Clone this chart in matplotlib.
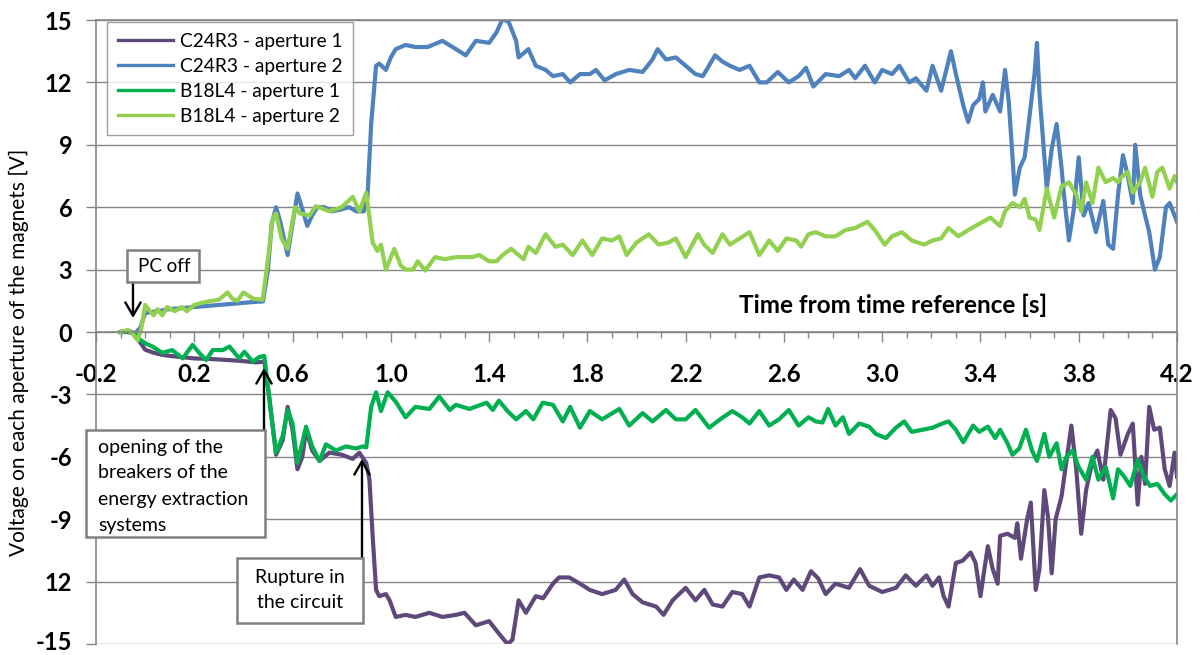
import matplotlib
matplotlib.use("Agg")
import matplotlib.pyplot as plt
from matplotlib.patches import Rectangle
from matplotlib.ticker import FixedLocator, FormatStrFormatter
from matplotlib.transforms import ScaledTranslation

plt.rcParams["font.family"] = ["Lato", "DejaVu Sans"]

W, H = 1201, 655

# ── Data (time [s], voltage [V]) ─────────────────────────────────────────────
c24_ap1_t = [-0.10, -0.07, -0.04, -0.02, 0.0, 0.035, 0.07, 0.10, 0.14, 0.20, 0.27, 0.34, 0.40, 0.45,
             0.485, 0.505, 0.533, 0.56, 0.58, 0.60, 0.62, 0.64, 0.655, 0.68, 0.71, 0.75, 0.80, 0.845,
             0.872, 0.90, 0.913, 0.926, 0.94, 0.953, 0.98, 0.995, 1.02, 1.06, 1.10, 1.157, 1.21, 1.265,
             1.30, 1.346, 1.40, 1.44, 1.475, 1.495, 1.52, 1.55, 1.59, 1.62, 1.66, 1.685, 1.726, 1.77,
             1.81, 1.86, 1.915, 1.95, 1.984, 2.025, 2.08, 2.11, 2.147, 2.20, 2.24, 2.276, 2.31, 2.35,
             2.39, 2.43, 2.46, 2.50, 2.54, 2.58, 2.61, 2.64, 2.676, 2.71, 2.74, 2.77, 2.81, 2.865,
             2.91, 2.947, 3.0, 3.056, 3.096, 3.137, 3.18, 3.205, 3.232, 3.25, 3.27, 3.30, 3.327, 3.36,
             3.38, 3.40, 3.43, 3.45, 3.47, 3.48, 3.51, 3.54, 3.55, 3.565, 3.59, 3.605, 3.625, 3.64,
             3.66, 3.675, 3.69, 3.706, 3.73, 3.75, 3.77, 3.79, 3.81, 3.83, 3.856, 3.876, 3.90, 3.93,
             3.95, 3.97, 4.0, 4.02, 4.04, 4.055, 4.07, 4.087, 4.107, 4.13, 4.15, 4.17, 4.19, 4.20]
c24_ap1_v = [0.0, 0.0, -0.1, -0.5, -0.85, -1.0, -1.1, -1.15, -1.2, -1.27, -1.3, -1.35, -1.4, -1.46,
             -1.43, -3.1, -5.9, -5.2, -3.6, -4.7, -6.6, -6.0, -4.7, -5.7, -6.2, -5.8, -5.9, -6.1,
             -5.8, -6.3, -7.1, -9.8, -12.4, -12.7, -12.6, -12.9, -13.7, -13.6, -13.7, -13.5, -13.7, -13.6,
             -13.5, -14.1, -13.9, -14.5, -15.0, -14.8, -12.9, -13.5, -12.7, -12.8, -12.1, -11.8, -11.8, -12.1,
             -12.4, -12.6, -12.4, -11.9, -12.6, -13.0, -13.2, -13.6, -12.9, -12.3, -12.9, -12.4, -13.1, -13.2,
             -12.5, -12.6, -13.2, -11.8, -11.7, -11.8, -12.4, -11.9, -12.4, -11.5, -11.85, -12.6, -12.1, -12.3,
             -11.4, -12.2, -12.5, -12.3, -11.7, -12.2, -11.7, -12.2, -11.8, -12.7, -13.2, -11.1, -11.0, -10.6,
             -11.1, -12.7, -10.3, -11.4, -12.1, -9.8, -9.7, -9.9, -9.2, -10.9, -9.0, -8.2, -12.4, -11.4,
             -7.6, -8.9, -11.6, -9.0, -7.9, -6.2, -4.5, -6.6, -9.7, -7.6, -6.2, -5.7, -7.1, -3.75,
             -4.15, -5.9, -4.9, -4.4, -8.3, -6.0, -7.3, -3.6, -4.7, -4.6, -6.6, -7.4, -5.8, -6.95]

c24_ap2_t = [-0.10, -0.07, -0.04, -0.02, 0.0, 0.02, 0.05, 0.10, 0.15, 0.20, 0.25, 0.30, 0.35, 0.40,
             0.45, 0.48, 0.50, 0.515, 0.533, 0.55, 0.58, 0.60, 0.62, 0.64, 0.66, 0.68, 0.70, 0.73,
             0.76, 0.80, 0.83, 0.86, 0.89, 0.905, 0.92, 0.94, 0.953, 0.98, 1.0, 1.02, 1.06, 1.10,
             1.15, 1.21, 1.265, 1.305, 1.346, 1.40, 1.43, 1.455, 1.48, 1.51, 1.52, 1.56, 1.59, 1.63,
             1.66, 1.70, 1.73, 1.77, 1.81, 1.835, 1.87, 1.916, 1.97, 2.025, 2.065, 2.086, 2.12, 2.16,
             2.20, 2.24, 2.27, 2.30, 2.32, 2.35, 2.38, 2.42, 2.46, 2.50, 2.53, 2.575, 2.62, 2.66,
             2.69, 2.72, 2.77, 2.825, 2.865, 2.89, 2.93, 2.97, 3.0, 3.04, 3.07, 3.11, 3.137, 3.18,
             3.205, 3.24, 3.28, 3.30, 3.33, 3.35, 3.37, 3.395, 3.41, 3.42, 3.45, 3.48, 3.50, 3.515,
             3.53, 3.54, 3.56, 3.58, 3.60, 3.62, 3.63, 3.64, 3.66, 3.67, 3.69, 3.71, 3.73, 3.74,
             3.76, 3.78, 3.80, 3.82, 3.84, 3.87, 3.90, 3.92, 3.94, 3.96, 3.98, 4.0, 4.02, 4.03,
             4.05, 4.07, 4.087, 4.11, 4.13, 4.155, 4.17, 4.19, 4.20]
c24_ap2_v = [0.0, 0.05, -0.05, 0.2, 0.9, 0.95, 1.0, 1.1, 1.15, 1.2, 1.25, 1.3, 1.35, 1.4,
             1.45, 1.47, 3.0, 5.2, 6.0, 5.3, 3.7, 5.2, 6.66, 5.9, 5.1, 5.6, 6.0, 6.0,
             5.8, 5.9, 6.0, 5.8, 5.8, 6.5, 10.0, 12.8, 12.9, 12.6, 13.2, 13.6, 13.8, 13.7,
             13.7, 14.0, 13.6, 13.3, 14.0, 13.9, 14.4, 15.05, 14.9, 14.0, 13.2, 13.6, 12.8, 12.6,
             12.3, 12.4, 12.0, 12.4, 12.4, 12.6, 12.1, 12.4, 12.6, 12.5, 13.1, 13.6, 13.1, 13.2,
             12.8, 12.4, 12.3, 12.9, 13.3, 13.0, 12.8, 12.6, 12.8, 12.0, 12.0, 12.5, 12.0, 12.3,
             12.7, 11.8, 12.4, 12.3, 12.6, 12.2, 12.8, 12.0, 12.6, 12.4, 12.8, 12.0, 12.2, 11.6,
             12.8, 11.6, 13.5, 12.4, 10.9, 10.1, 10.9, 11.2, 12.0, 10.6, 11.4, 10.6, 12.6, 11.1,
             8.5, 6.6, 7.9, 8.4, 10.4, 12.4, 13.9, 11.5, 8.4, 6.9, 8.8, 10.0, 7.9, 6.6,
             4.4, 5.9, 8.4, 5.6, 6.2, 4.8, 6.3, 4.2, 4.0, 6.6, 8.5, 7.5, 6.2, 9.0,
             6.6, 5.6, 4.8, 3.0, 3.6, 6.0, 6.2, 5.6, 5.3]

b18_ap1_t = [-0.10, -0.07, -0.04, -0.02, 0.0, 0.03, 0.07, 0.11, 0.153, 0.193, 0.22, 0.248, 0.275, 0.316,
             0.343, 0.383, 0.404, 0.438, 0.465, 0.485, 0.512, 0.533, 0.56, 0.58, 0.60, 0.62, 0.655, 0.68,
             0.71, 0.736, 0.777, 0.817, 0.858, 0.885, 0.90, 0.92, 0.94, 0.96, 0.987, 1.02, 1.06, 1.10,
             1.157, 1.197, 1.24, 1.265, 1.32, 1.39, 1.415, 1.44, 1.475, 1.51, 1.55, 1.58, 1.618, 1.66,
             1.70, 1.73, 1.77, 1.81, 1.86, 1.93, 1.97, 2.025, 2.065, 2.12, 2.16, 2.20, 2.24, 2.296,
             2.34, 2.39, 2.43, 2.46, 2.50, 2.54, 2.58, 2.62, 2.66, 2.70, 2.73, 2.757, 2.78, 2.81,
             2.84, 2.865, 2.906, 2.947, 2.974, 3.015, 3.056, 3.09, 3.12, 3.164, 3.205, 3.245, 3.27, 3.30,
             3.33, 3.37, 3.395, 3.43, 3.46, 3.48, 3.51, 3.53, 3.558, 3.585, 3.61, 3.63, 3.66, 3.68,
             3.71, 3.73, 3.75, 3.775, 3.80, 3.83, 3.856, 3.88, 3.91, 3.94, 3.96, 3.985, 4.01, 4.04,
             4.066, 4.09, 4.12, 4.15, 4.175, 4.20]
b18_ap1_v = [0.0, 0.05, -0.1, -0.38, -0.54, -0.7, -1.0, -0.87, -1.27, -0.62, -1.0, -1.35, -0.87, -0.87,
             -0.7, -1.27, -0.95, -1.43, -1.2, -1.15, -3.9, -5.8, -5.0, -3.75, -4.4, -6.3, -4.55, -5.5,
             -6.2, -5.4, -5.7, -5.5, -5.6, -5.5, -5.55, -3.6, -2.9, -3.8, -2.9, -3.35, -4.1, -3.6,
             -3.7, -3.1, -3.75, -3.5, -3.7, -3.4, -3.75, -3.3, -3.8, -4.2, -3.8, -4.2, -3.4, -3.5,
             -4.3, -3.6, -4.6, -3.8, -4.2, -3.7, -4.5, -3.9, -4.3, -3.75, -4.2, -4.2, -3.75, -4.6,
             -4.2, -3.8, -4.1, -4.4, -3.8, -4.5, -4.2, -3.75, -4.5, -4.1, -4.3, -4.35, -3.7, -4.5,
             -4.1, -4.9, -4.4, -4.55, -4.9, -5.1, -4.6, -4.3, -4.8, -4.7, -4.6, -4.4, -4.3, -4.7,
             -5.3, -4.5, -4.8, -4.55, -5.1, -4.7, -5.35, -5.9, -5.6, -4.7, -5.7, -6.2, -4.9, -6.0,
             -5.35, -6.6, -6.0, -5.7, -6.5, -7.1, -6.0, -7.1, -6.5, -8.0, -6.6, -6.95, -7.4, -6.15,
             -6.95, -7.4, -7.3, -7.8, -8.1, -7.8]

b18_ap2_t = [-0.10, -0.07, -0.05, -0.03, -0.015, 0.0, 0.02, 0.035, 0.05, 0.07, 0.09, 0.12, 0.15, 0.17,
             0.20, 0.23, 0.27, 0.30, 0.335, 0.355, 0.375, 0.40, 0.44, 0.478, 0.50, 0.52, 0.533, 0.555,
             0.58, 0.61, 0.63, 0.668, 0.695, 0.75, 0.80, 0.845, 0.872, 0.90, 0.926, 0.945, 0.96, 0.98,
             1.014, 1.04, 1.06, 1.09, 1.11, 1.14, 1.18, 1.22, 1.265, 1.33, 1.36, 1.40, 1.43, 1.455,
             1.49, 1.54, 1.56, 1.59, 1.63, 1.67, 1.70, 1.74, 1.78, 1.82, 1.86, 1.90, 1.93, 1.96,
             2.0, 2.05, 2.09, 2.13, 2.16, 2.20, 2.25, 2.275, 2.31, 2.35, 2.38, 2.42, 2.46, 2.50,
             2.54, 2.575, 2.61, 2.65, 2.67, 2.70, 2.73, 2.77, 2.81, 2.85, 2.89, 2.94, 2.97, 3.01,
             3.04, 3.08, 3.12, 3.17, 3.205, 3.24, 3.27, 3.31, 3.35, 3.395, 3.44, 3.48, 3.50, 3.53,
             3.56, 3.58, 3.60, 3.625, 3.64, 3.67, 3.70, 3.73, 3.76, 3.79, 3.81, 3.83, 3.856, 3.88,
             3.91, 3.94, 3.96, 3.97, 4.0, 4.02, 4.05, 4.07, 4.10, 4.12, 4.14, 4.17, 4.19, 4.20]
b18_ap2_v = [0.0, 0.1, -0.1, -0.4, 0.2, 1.3, 1.0, 0.8, 1.1, 0.8, 1.2, 1.0, 1.2, 1.0,
             1.3, 1.4, 1.5, 1.55, 1.9, 1.6, 1.5, 1.9, 1.6, 1.55, 3.5, 5.5, 5.7, 4.5,
             4.0, 6.0, 5.7, 5.6, 6.05, 5.8, 6.0, 6.5, 5.8, 6.7, 4.3, 3.9, 4.2, 3.0,
             4.0, 3.2, 3.0, 3.0, 3.4, 2.95, 3.6, 3.5, 3.6, 3.6, 3.7, 3.4, 3.4, 3.7,
             4.0, 3.5, 4.1, 3.8, 4.7, 4.1, 4.2, 3.7, 4.4, 3.7, 4.5, 4.4, 4.6, 3.7,
             4.3, 4.7, 4.2, 4.3, 4.5, 3.6, 4.7, 4.2, 3.8, 4.7, 4.2, 4.5, 4.8, 3.7,
             4.4, 3.9, 4.5, 4.4, 4.1, 4.7, 4.8, 4.6, 4.6, 4.9, 5.0, 5.3, 4.9, 4.2,
             4.6, 4.8, 4.4, 4.2, 4.4, 4.5, 5.0, 4.6, 4.9, 5.2, 5.5, 5.1, 5.8, 6.2,
             6.0, 6.4, 5.5, 5.4, 4.9, 6.9, 5.5, 7.0, 7.2, 6.6, 5.8, 7.2, 6.2, 7.9,
             7.2, 7.4, 7.2, 7.4, 7.7, 6.7, 7.2, 7.9, 6.5, 7.7, 7.9, 6.9, 7.5, 7.2]

series_names = ["C24R3 - aperture 1", "C24R3 - aperture 2", "B18L4 - aperture 1", "B18L4 - aperture 2"]
series_colors = ["#5F497A", "#4F81BD", "#00B050", "#92D050"]

x_ticks = [-0.2, 0.2, 0.6, 1.0, 1.4, 1.8, 2.2, 2.6, 3.0, 3.4, 3.8, 4.2]
x_minor = [-0.2 + 0.1 * i for i in range(45)]
y_ticks = [15, 12, 9, 6, 3, 0, -3, -6, -9, -12, -15]
y_tick_labels = ["15", "12", "9", "6", "3", "0", "-3", "-6", "-9", "12", "-15"]

GRID = "#868686"


def px(x, y):
    """pixel (from top-left) -> figure fraction"""
    return x / W, 1 - y / H


fig = plt.figure(figsize=(W / 100, H / 100), dpi=100, facecolor="white")
ax = fig.add_axes([96 / W, 1 - 644 / H, (1177 - 96) / W, (644 - 20) / H])

data = [(c24_ap1_t, c24_ap1_v), (c24_ap2_t, c24_ap2_v), (b18_ap1_t, b18_ap1_v), (b18_ap2_t, b18_ap2_v)]
for (t, v), name, col in zip(data, series_names, series_colors):
    ax.plot(t, v, color=col, linewidth=3.0, label=name, solid_joinstyle="round")

ax.set_xlim(-0.2, 4.2)
ax.set_ylim(-15, 15)

# axes / grid
ax.spines["bottom"].set_position(("data", 0))
for s in ax.spines.values():
    s.set_color(GRID)
    s.set_linewidth(1.2)
ax.set_yticks(y_ticks)
ax.set_yticklabels(y_tick_labels)
ax.yaxis.grid(True, color=GRID, linewidth=1.0)
ax.set_axisbelow(True)

ax.xaxis.set_major_locator(FixedLocator(x_ticks))
ax.xaxis.set_minor_locator(FixedLocator(x_minor))
ax.xaxis.set_major_formatter(FormatStrFormatter("%.1f"))
ax.tick_params(axis="x", which="major", direction="out", length=7, width=1, color=GRID,
               pad=15, labelsize=17.5)
ax.tick_params(axis="x", which="minor", direction="out", length=4.5, width=1, color=GRID)
ax.tick_params(axis="y", direction="out", length=7, width=1, color=GRID, pad=10, labelsize=17)
for lab in ax.get_xticklabels() + ax.get_yticklabels():
    lab.set_fontweight("bold")

# the "-15" label sits on the bottom edge: lift it a little so it stays inside the image
low_lab = ax.yaxis.get_major_ticks()[-1].label1
low_lab.set_transform(low_lab.get_transform() + ScaledTranslation(0, 4 / 100, fig.dpi_scale_trans))

ax.text(0.737, 0.543, "Time from time reference [s]", transform=ax.transAxes,
        ha="center", va="center", fontsize=17.5, fontweight="bold")
fig.text(*px(19, 352), "Voltage on each aperture of the magnets [V]", rotation=90,
         ha="center", va="center", fontsize=15)

leg = ax.legend(loc="upper left", bbox_to_anchor=((107 - 96) / 1081, (644 - 22) / 624),
                fontsize=13.8, frameon=True, fancybox=False, edgecolor=GRID,
                handlelength=2.9, handletextpad=0.35, labelspacing=0.42, borderpad=0.55,
                borderaxespad=0)
leg.get_frame().set_linewidth(1.0)
for line in leg.get_lines():
    line.set_linewidth(2.4)


# annotation boxes (pixel layout) and arrows
def box(x0, y0, x1, y1):
    fx0, fy1 = px(x0, y0)
    fx1, fy0 = px(x1, y1)
    fig.add_artist(Rectangle((fx0, fy0), fx1 - fx0, fy1 - fy0, transform=fig.transFigure,
                             facecolor="white", edgecolor="#7F7F7F", linewidth=1.8, zorder=5))


def arrow(x, y_from, y_to):
    ax.annotate("", xy=px(x, y_to), xycoords="figure fraction",
                xytext=px(x, y_from), textcoords="figure fraction",
                arrowprops=dict(arrowstyle="->,head_width=0.55,head_length=0.95",
                                color="black", lw=1.7, shrinkA=0, shrinkB=0), zorder=6)


box(127, 250, 199, 282)
fig.text(*px(164, 267), "PC off", ha="center", va="center", fontsize=13.5, zorder=7)
arrow(133, 283, 318)

box(86, 430, 265, 537)
for i, line in enumerate(["opening of the", "breakers of the", "energy extraction", "systems"]):
    fig.text(*px(98, 447 + i * 26), line, ha="left", va="center", fontsize=14, zorder=7)
arrow(264, 430, 368)

box(237, 558, 363, 623)
fig.text(*px(300, 577), "Rupture in", ha="center", va="center", fontsize=14, zorder=7)
fig.text(*px(300, 603), "the circuit", ha="center", va="center", fontsize=14, zorder=7)
arrow(362, 558, 459)

fig.savefig("out.png", dpi=100, facecolor="white")
